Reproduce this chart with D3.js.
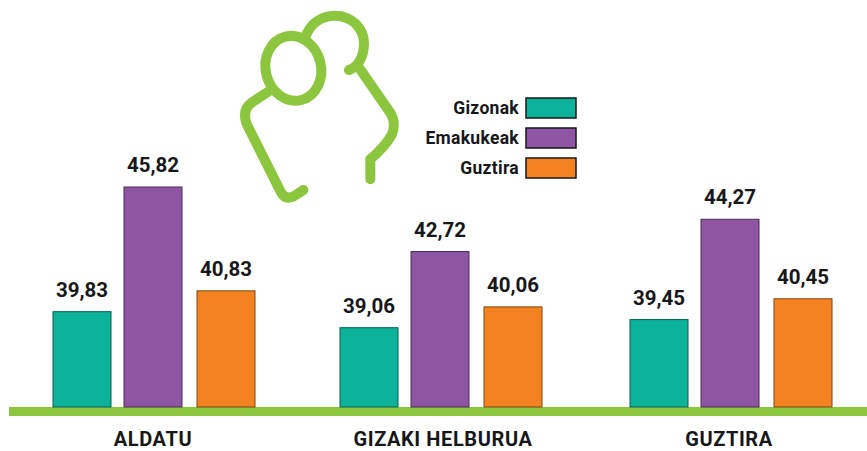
<!DOCTYPE html>
<html><head><meta charset="utf-8">
<script src="https://cdn.jsdelivr.net/npm/d3@7"></script>
<style>html,body{margin:0;background:#fff}svg{display:block}text{font-family:Roboto,sans-serif;font-weight:700;fill:#17171a}</style>
</head><body><svg id="c" width="867" height="451"></svg>
<script>
const categories = ["ALDATU", "GIZAKI HELBURUA", "GUZTIRA"];
const seriesNames = ["Gizonak", "Emakukeak", "Guztira"];
const gizonak = [39.83, 39.06, 39.45];
const emakukeak = [45.82, 42.72, 44.27];
const guztira = [40.83, 40.06, 40.45];
const colors = ["#0cb39a", "#8e55a3", "#f58220"];
const seriesValues = [gizonak, emakukeak, guztira];

const svg = d3.select("#c");
const barW = 58;
const x0 = d3.scaleOrdinal().domain(categories).range([53, 340, 630]);
const x1 = d3.scaleOrdinal().domain(seriesNames).range([0, 71, 144]);
const labelX = d3.scaleOrdinal().domain(categories).range([153, 443, 729]);
const y = d3.scaleLinear().domain([35.25, 45.82]).range([407, 187]);
const fmt = d3.formatLocale({decimal: ",", thousands: ".", grouping: [3], currency: ["", ""]}).format(".2f");

// Logo
const logo = svg.append("g").attr("transform", "translate(230,0) scale(0.3333)")
  .attr("fill", "none").attr("stroke", "#8cc63f").attr("stroke-width", 30).attr("stroke-linecap", "round");
logo.append("ellipse").attr("cx", 190).attr("cy", 205).attr("rx", 83).attr("ry", 98)
  .attr("transform", "rotate(-14 190 205)");
logo.append("path").attr("d", "M226,112 C240,70 275,47 315,47 C365,47 402,85 402,130 C402,170 385,200 357,210");
logo.append("path").attr("d", "M385,200 L482,340 Q500,370 485,405 Q465,440 421,478 L421,538");
logo.append("path").attr("d", "M115,275 L65,308 Q35,330 50,372 L152,575 Q165,600 190,590 L220,570");

// Baseline
svg.append("rect").attr("x", 9).attr("y", y.range()[0]).attr("width", 858).attr("height", 9).attr("fill", "#8cc63f");

// Bars and value labels
seriesNames.forEach((name, s) => {
  const g = svg.append("g");
  g.selectAll("rect").data(seriesValues[s]).join("rect")
    .attr("x", (d, i) => x0(categories[i]) + x1(name))
    .attr("y", d => y(d))
    .attr("width", barW)
    .attr("height", d => y.range()[0] - y(d))
    .attr("fill", colors[s])
    .attr("stroke", d3.color(colors[s]).darker(1.8))
    .attr("stroke-width", 1);
  g.selectAll("text").data(seriesValues[s]).join("text")
    .attr("x", (d, i) => x0(categories[i]) + x1(name) + barW / 2)
    .attr("y", d => y(d) - 15)
    .attr("text-anchor", "middle")
    .attr("font-size", 20.5)
    .text(fmt);
});

// Category labels
svg.selectAll("text.cat").data(categories).join("text").attr("class", "cat")
  .attr("x", d => labelX(d))
  .attr("y", 446)
  .attr("text-anchor", "middle")
  .attr("font-size", 20)
  .attr("letter-spacing", 0.6)
  .text(d => d);

// Legend
const leg = svg.selectAll("g.leg").data(seriesNames).join("g").attr("class", "leg")
  .attr("transform", (d, i) => `translate(526,${98 + i * 30})`);
leg.append("rect").attr("width", 50).attr("height", 20)
  .attr("fill", (d, i) => colors[i]).attr("stroke", "#17171a").attr("stroke-width", 1.5);
leg.append("text").attr("x", -7).attr("y", 16).attr("text-anchor", "end")
  .attr("font-size", 17.5).attr("letter-spacing", 0.3).text(d => d);
</script></body></html>
